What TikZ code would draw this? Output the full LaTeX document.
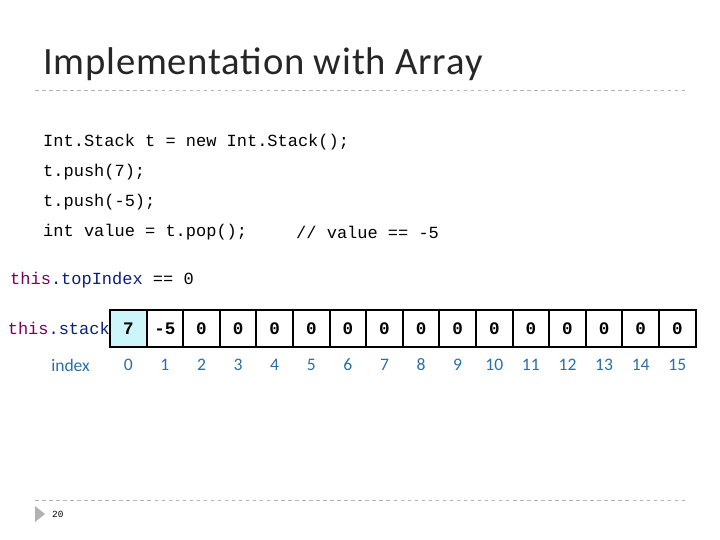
\documentclass[tikz,border=0pt]{standalone}
\usepackage{fontspec}
\setmainfont{Carlito}
\setmonofont{Liberation Mono}
\definecolor{kwcol}{HTML}{7F0055}
\definecolor{fldcol}{HTML}{0B1F7A}
\definecolor{idxcol}{HTML}{2A6FA8}
\definecolor{topcol}{HTML}{CCF6FA}
\tikzset{
  cell/.style={draw, line width=1.6pt, minimum width=36.6*0.03cm, minimum height=37*0.03cm,
    inner sep=0pt, font=\fontsize{15}{15}\selectfont\ttfamily\bfseries},
  idx/.style={text=idxcol, font=\fontsize{15}{15}\selectfont},
  code/.style={anchor=west, inner sep=0pt, font=\fontsize{14.5}{15}\selectfont\ttfamily},
  rule/.style={gray!60, dashed, line width=0.6pt}
}
\begin{document}
\begin{tikzpicture}[x=0.03cm, y=-0.03cm]
  \useasboundingbox (0,0) rectangle (720,540);
  % title
  \node[anchor=west, inner sep=0pt, text=black!85, font=\fontsize{33}{33}\selectfont\addfontfeatures{LetterSpace=2}] (title) at (43,64) {Implementation with Array};
  \draw[rule] (35,90) -- (685,90);
  % code
  \node[code] (c1) at (43,142) {Int.Stack t = new Int.Stack();};
  \node[code] (c2) at (43,172) {t.push(7);};
  \node[code] (c3) at (43,202) {t.push(-5);};
  \node[code] (c4) at (43,232) {int value = t.pop();};
  \node[code] (c5) at (296,232) {// value == -5};
  \node[code] (top) at (10,280) {\color{kwcol}this\color{fldcol}.topIndex \color{black}== 0};
  \node[code, anchor=east] (lbl) at (110,328) {\color{kwcol}this\color{fldcol}.stack};
  \node[idx, anchor=east] (ilbl) at (94,365) {index};
  % array cells
  \foreach \v [count=\i from 0] in {7,-5,0,0,0,0,0,0,0,0,0,0,0,0,0,0} {
    \ifnum\i=0
      \node[cell, fill=topcol] (s\i) at (128.3+36.6*\i,328.5) {\v};
    \else
      \node[cell] (s\i) at (128.3+36.6*\i,328.5) {\v};
    \fi
    \node[idx] (n\i) at (128.3+36.6*\i,365) {\i};
  }
  % footer
  \draw[rule] (35,500) -- (685,500);
  \fill[gray!60] (35,506) -- (45,514) -- (35,522) -- cycle;
  \node[anchor=west, inner sep=0pt, font=\fontsize{8}{8}\selectfont\ttfamily] (page) at (52,514) {20};
\end{tikzpicture}
\end{document}
